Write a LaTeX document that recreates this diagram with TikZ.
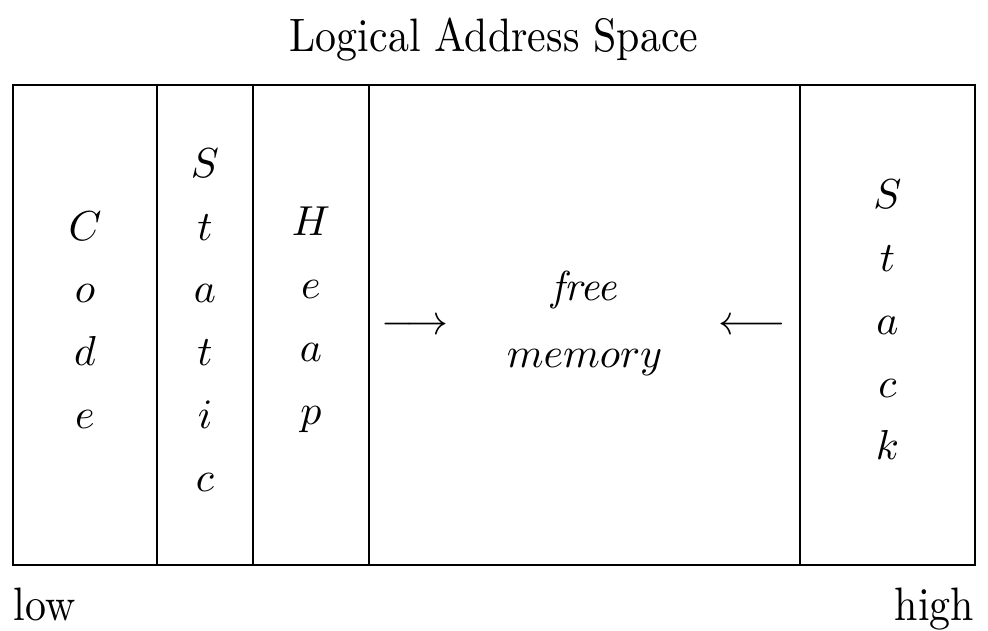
\documentclass[tikz,border=0pt]{standalone}
\begin{document}
\begin{tikzpicture}[x=0.2387pt,y=-0.2387pt,
  seg/.style={draw,line width=0.4pt},
  stackletters/.style={align=center,inner sep=0pt,font=\fontsize{10}{15}\selectfont},
  lbl/.style={inner sep=0pt},
  tall/.style={inner sep=0pt,yscale=1.12,transform shape}]
\useasboundingbox (0,0) rectangle (988,631);
% columns
\draw[seg] (13,85) rectangle (157,565);
\draw[seg] (157,85) rectangle (253,565);
\draw[seg] (253,85) rectangle (369,565);
\draw[seg] (369,85) rectangle (800,565);
\draw[seg] (800,85) rectangle (975,565);
% labels
\node[tall,anchor=base] (title) at (494,52) {Logical Address Space};
\node[stackletters] (code) at (85,320) {$C$\\$o$\\$d$\\$e$};
\node[stackletters] (static) at (205,320) {$S$\\$t$\\$a$\\$t$\\$i$\\$c$};
\node[stackletters] (heap) at (311,320) {$H$\\$e$\\$a$\\$p$};
\node[align=center,inner sep=0pt,font=\fontsize{10}{16}\selectfont] (free) at (584.5,323) {\textit{free}\\$memory$};
\node[lbl] (ra) at (415,327) {$\longrightarrow$};
\node[lbl] (la) at (752,327) {$\longleftarrow$};
\node[stackletters] (stack) at (887.5,320) {$S$\\$t$\\$a$\\$c$\\$k$};
\node[tall,anchor=base west] (low) at (13,621) {low};
\node[tall,anchor=base east] (high) at (975,621) {high};
\end{tikzpicture}
\end{document}
